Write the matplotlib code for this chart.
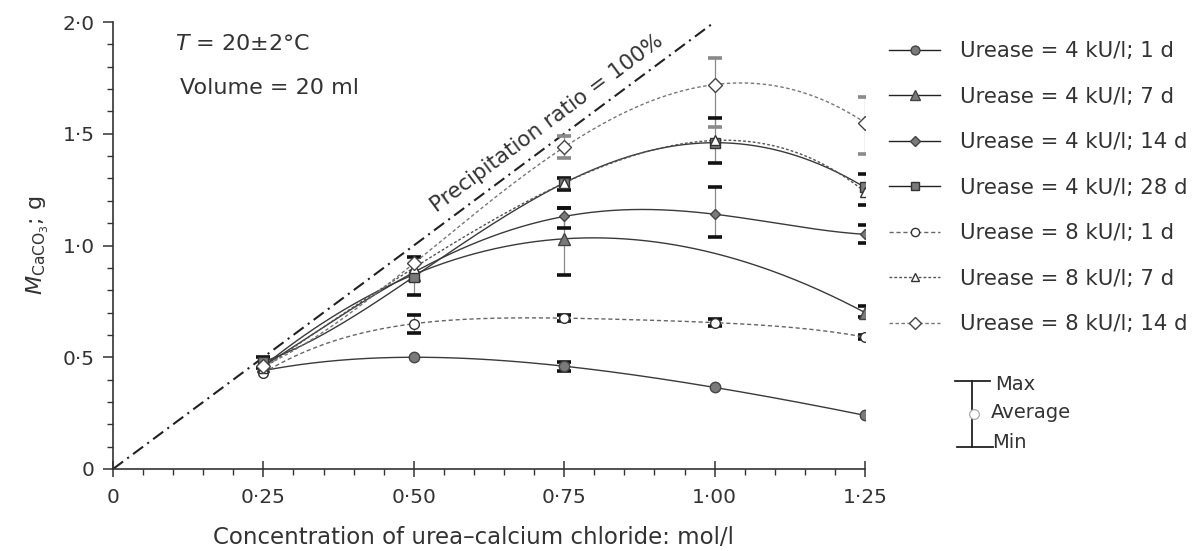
import numpy as np
import matplotlib
matplotlib.use("Agg")
import matplotlib.pyplot as plt
from matplotlib.lines import Line2D

plt.rcParams['font.family'] = ['DejaVu Sans']
plt.rcParams['mathtext.fontset'] = 'dejavusans'

nan = np.nan
# ---------------- data ----------------
conc = [0.25, 0.50, 0.75, 1.00, 1.25]
x_ticks = [0, 0.25, 0.50, 0.75, 1.00, 1.25]
x_tick_labels = ["0", "0·25", "0·50", "0·75", "1·00", "1·25"]
y_ticks = [0, 0.5, 1.0, 1.5, 2.0]
y_tick_labels = ["0", "0·5", "1·0", "1·5", "2·0"]

labels = ["Urease = 4 kU/l; 1 d", "Urease = 4 kU/l; 7 d", "Urease = 4 kU/l; 14 d",
          "Urease = 4 kU/l; 28 d", "Urease = 8 kU/l; 1 d", "Urease = 8 kU/l; 7 d",
          "Urease = 8 kU/l; 14 d"]

u4_1d = [0.44, 0.50, 0.46, 0.365, 0.24]
u4_7d = [0.46, 0.87, 1.03, nan, 0.70]
u4_14d = [0.46, 0.88, 1.13, 1.14, 1.05]
u4_28d = [0.48, 0.86, 1.28, 1.46, 1.26]
u8_1d = [0.43, 0.65, 0.675, 0.655, 0.59]
u8_7d = [0.45, 0.90, 1.28, 1.47, 1.24]
u8_14d = [0.46, 0.92, 1.44, 1.72, 1.55]

u4_1d_min = [nan, nan, 0.44, nan, nan]
u4_1d_max = [nan, nan, 0.48, nan, nan]
u4_7d_min = [nan, nan, 0.87, nan, 0.68]
u4_7d_max = [nan, nan, 1.17, nan, 0.73]
u4_14d_min = [nan, nan, 1.08, 1.04, 1.01]
u4_14d_max = [nan, nan, 1.17, 1.26, 1.09]
u4_28d_min = [0.45, 0.78, 1.25, 1.37, 1.18]
u4_28d_max = [0.50, 0.95, 1.30, 1.57, 1.32]
u8_1d_min = [nan, 0.61, 0.66, 0.64, 0.58]
u8_1d_max = [nan, 0.69, 0.69, 0.67, 0.60]
u8_7d_min = [nan, nan, nan, nan, nan]
u8_7d_max = [nan, nan, nan, nan, nan]
u8_14d_min = [nan, nan, 1.39, 1.53, 1.41]
u8_14d_max = [nan, nan, 1.49, 1.84, 1.665]

ratio_x = [0, 1.0]
ratio_y = [0, 2.0]

series = [u4_1d, u4_7d, u4_14d, u4_28d, u8_1d, u8_7d, u8_14d]
mins = [u4_1d_min, u4_7d_min, u4_14d_min, u4_28d_min, u8_1d_min, u8_7d_min, u8_14d_min]
maxs = [u4_1d_max, u4_7d_max, u4_14d_max, u4_28d_max, u8_1d_max, u8_7d_max, u8_14d_max]

# ---------------- styles ----------------
W, H = 1198, 551
styles = [
    dict(marker='o', ms=7.5, mfc='#7a7a7a', mec='#444444', ls='-', lc='#3a3a3a', lw=1.0, cap='#111111'),
    dict(marker='^', ms=8, mfc='#7a7a7a', mec='#444444', ls='-', lc='#3a3a3a', lw=1.0, cap='#111111'),
    dict(marker='D', ms=5.5, mfc='#7a7a7a', mec='#444444', ls='-', lc='#3a3a3a', lw=1.0, cap='#111111'),
    dict(marker='s', ms=7, mfc='#7a7a7a', mec='#333333', ls='-', lc='#3a3a3a', lw=1.0, cap='#111111'),
    dict(marker='o', ms=7, mfc='white', mec='#333333', ls=(0, (3, 2)), lc='#666666', lw=1.0, cap='#111111'),
    dict(marker='^', ms=7, mfc='white', mec='#333333', ls=(0, (2, 1.5)), lc='#555555', lw=1.0, cap='#111111'),
    dict(marker='D', ms=7.5, mfc='white', mec='#444444', ls=(0, (2.5, 1.8)), lc='#777777', lw=1.0, cap='#8a8a8a'),
]

fig = plt.figure(figsize=(W / 100, H / 100), dpi=100)
ax = fig.add_axes([113 / W, 1 - 469 / H, 752 / W, 447 / H])

txtc = '#333333'

# precipitation ratio line
ax.plot(ratio_x, ratio_y, color='#222222', lw=1.5, ls=(0, (6, 2.5, 1, 2.5)), zorder=2)

handles = []
for vals, lo, hi, st, lab in zip(series, mins, maxs, styles, labels):
    x = np.array(conc, dtype=float)
    y = np.array(vals, dtype=float)
    lo = np.array(lo, dtype=float)
    hi = np.array(hi, dtype=float)
    m = ~np.isnan(y)
    # smooth curve through the measured averages (polynomial through points)
    coef = np.polyfit(x[m], y[m], m.sum() - 1)
    xs = np.linspace(x[m].min(), x[m].max(), 300)
    ax.plot(xs, np.polyval(coef, xs), color=st['lc'], lw=st['lw'], ls=st['ls'], zorder=3)
    # error bars (min / max)
    e = ~np.isnan(lo)
    if e.any():
        ax.vlines(x[e], lo[e], hi[e], color='#888888', lw=0.9, zorder=2.5)
        ax.plot(x[e], lo[e], ls='none', marker='_', ms=10, mew=2.6, color=st['cap'], zorder=2.6)
        ax.plot(x[e], hi[e], ls='none', marker='_', ms=10, mew=2.6, color=st['cap'], zorder=2.6)
    ax.plot(x[m], y[m], ls='none', marker=st['marker'], ms=st['ms'], mfc=st['mfc'],
            mec=st['mec'], mew=1.0, zorder=4)
    handles.append(Line2D([], [], color=st['lc'] if st['ls'] != '-' else '#222222',
                          lw=1.0, ls=st['ls'], marker=st['marker'],
                          ms=st['ms'] * 0.85, mfc=st['mfc'], mec=st['mec'], mew=1.0))

ax.set_xlim(0, 1.25)
ax.set_ylim(0, 2.0)
for s in ['top', 'right']:
    ax.spines[s].set_visible(False)
for s in ['left', 'bottom']:
    ax.spines[s].set_color('#333333')
    ax.spines[s].set_linewidth(1.2)

ax.set_xticks(x_ticks)
ax.set_xticklabels(x_tick_labels)
ax.set_yticks(y_ticks)
ax.set_yticklabels(y_tick_labels)
ax.set_xticks(np.arange(0, 1.2501, 0.05), minor=True)
ax.set_yticks(np.arange(0, 2.001, 0.1), minor=True)
fs = 15.3
ax.tick_params(axis='x', which='major', direction='inout', length=11, width=1.1,
               colors='#333333', labelcolor=txtc, labelsize=14.5, pad=8)
ax.tick_params(axis='x', which='minor', direction='out', length=4, width=1.0, colors='#333333')
ax.tick_params(axis='y', which='major', direction='out', length=7, width=1.1,
               colors='#333333', labelcolor=txtc, labelsize=14.5, pad=6)
ax.tick_params(axis='y', which='minor', direction='out', length=4, width=1.0, colors='#333333')

ax.set_xlabel("Concentration of urea–calcium chloride: mol/l", fontsize=16.5, color=txtc)
ax.xaxis.set_label_coords(0.479, -0.128)
ax.set_ylabel(r"$\mathit{M}_{\mathrm{CaCO}_{3}}$; g", fontsize=16, color=txtc)
ax.yaxis.set_label_coords(-0.082, 0.5)

ax.text(0.103, 1.90, r"$T$ = 20±2°C", fontsize=16, color=txtc, va='center', ha='left')
ax.text(0.111, 1.705, "Volume = 20 ml", fontsize=16, color=txtc, va='center', ha='left')
ax.text(0.722, 1.545, "Precipitation ratio = 100%", fontsize=15.5, color=txtc,
        ha='center', va='center', rotation=np.degrees(np.arctan(2.0)),
        transform_rotates_text=True, rotation_mode='anchor')

leg = ax.legend(handles, labels, loc='upper left', bbox_to_anchor=(889 / W, 1 - 41 / H),
                bbox_transform=fig.transFigure, frameon=False, fontsize=fs,
                borderpad=0, borderaxespad=0, handlelength=2.4, handletextpad=0.93,
                labelspacing=1.2)
for t in leg.get_texts():
    t.set_color(txtc)

# Max / Average / Min key
def fx(px):
    return px / W

def fy(py):
    return 1 - py / H

kc = '#222222'
fig.add_artist(Line2D([fx(955), fx(990)], [fy(381), fy(381)], color=kc, lw=1.3, transform=fig.transFigure))
fig.add_artist(Line2D([fx(972), fx(972)], [fy(381), fy(447)], color=kc, lw=1.3, transform=fig.transFigure))
fig.add_artist(Line2D([fx(957), fx(993)], [fy(447), fy(447)], color=kc, lw=1.3, transform=fig.transFigure))
fig.add_artist(Line2D([fx(974)], [fy(414)], ls='none', marker='o', ms=7, mfc='white', mec='#aaaaaa',
                      mew=0.9, transform=fig.transFigure))
fig.text(fx(995), fy(385), "Max", fontsize=14, color=txtc, va='center', ha='left')
fig.text(fx(991), fy(413), "Average", fontsize=14, color=txtc, va='center', ha='left')
fig.text(fx(992), fy(442), "Min", fontsize=14, color=txtc, va='center', ha='left')

fig.savefig("out.png", dpi=100)
